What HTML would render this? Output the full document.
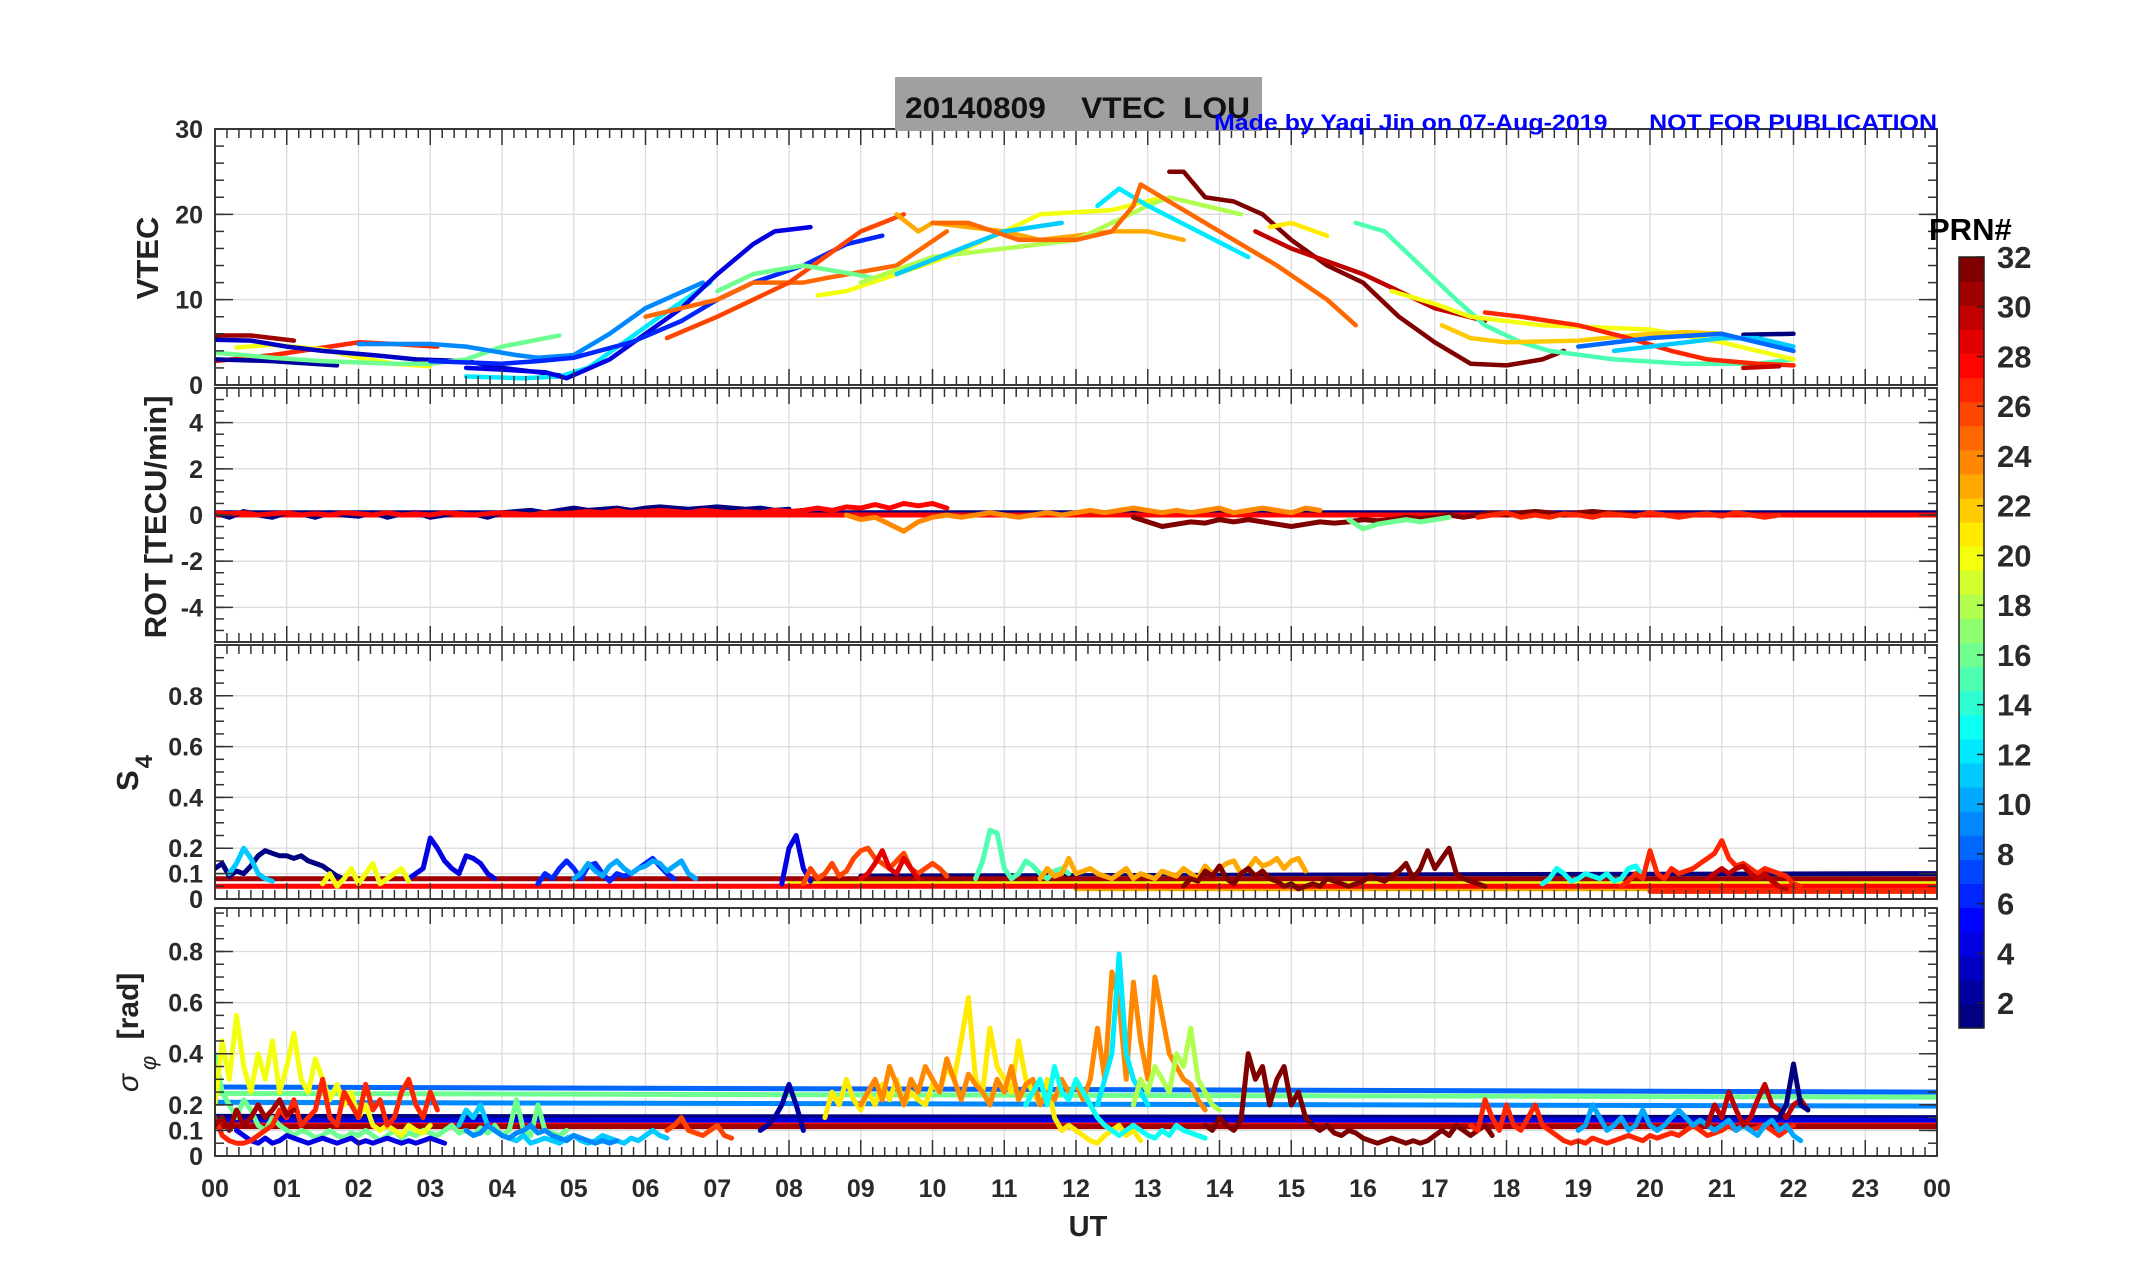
<!DOCTYPE html>
<html><head><meta charset="utf-8"><style>
html,body{margin:0;padding:0;background:#fff;}
svg{display:block;font-family:"Liberation Sans",sans-serif;}
</style></head><body>
<svg id="fig" width="2153" height="1286" viewBox="0 0 2153 1286" xmlns="http://www.w3.org/2000/svg">
<defs>
<clipPath id="c1"><rect x="215" y="129" width="1722" height="256"/></clipPath>
<clipPath id="c2"><rect x="215" y="388" width="1722" height="254"/></clipPath>
<clipPath id="c3"><rect x="215" y="645" width="1722" height="254"/></clipPath>
<clipPath id="c4"><rect x="215" y="908" width="1722" height="248"/></clipPath>
</defs>
<g id="grid"></g>
<g id="marks"></g>
<g id="axes"></g>
<rect x="895" y="77" width="367" height="54" fill="#a0a0a0"/>
<text x="905" y="118" font-size="30" font-weight="bold" fill="#111" textLength="345" lengthAdjust="spacingAndGlyphs" xml:space="preserve">20140809    VTEC  LOU</text>
<text x="1937" y="130" font-size="22" font-weight="bold" fill="#0000ff" text-anchor="end" textLength="723" lengthAdjust="spacingAndGlyphs" xml:space="preserve">Made by Yaqi Jin on 07-Aug-2019      NOT FOR PUBLICATION</text>
<text transform="translate(158,258) rotate(-90)" font-size="31" font-weight="bold" fill="#222" text-anchor="middle">VTEC</text>
<text transform="translate(166,517) rotate(-90)" font-size="31" font-weight="bold" fill="#222" text-anchor="middle">ROT [TECU/min]</text>
<text transform="translate(138,773) rotate(-90)" font-size="31" font-weight="bold" fill="#222" text-anchor="middle">S<tspan dy="14" dx="2" font-size="24">4</tspan></text>
<text transform="translate(138,1006) rotate(-90)" font-size="30" font-weight="bold" fill="#222" text-anchor="middle">[rad]</text>
<text transform="translate(138,1083) rotate(-90)" font-size="30" font-style="italic" fill="#222" text-anchor="middle">σ</text>
<text transform="translate(156,1063) rotate(-90)" font-size="22" font-style="italic" fill="#222" text-anchor="middle">φ</text>
<text x="1088" y="1236" font-size="29" font-weight="bold" fill="#222" text-anchor="middle">UT</text>
<g id="cbar"></g>
<text x="1929" y="240" font-size="31" font-weight="bold" fill="#000">PRN#</text>
</svg>
<script>
// ---------- data ----------
const hourTicks=["00","01","02","03","04","05","06","07","08","09","10","11","12","13","14","15","16","17","18","19","20","21","22","23","00"];
const vtecTicks=[0,10,20,30];
const rotTicks=[-4,-2,0,2,4];
const s4Ticks=[0,0.1,0.2,0.4,0.6,0.8];
const sigTicks=[0,0.1,0.2,0.4,0.6,0.8];
const cbarTicks=[2,4,6,8,10,12,14,16,18,20,22,24,26,28,30,32];

// VTEC tracks: PRN, hours, TEC values
const vtecPRN=[31,27,20,3,2,16,9,12,4,6,25,26,16,20,23,18,11,12,25,32,30,15,20,22,27,30,1,11,21,8];
const vtecT=[
[0,0.5,1.1],[0,0.8,1.6,2.0,2.5,3.1],[0.3,0.8,1.5,2.0,2.5,3.0],[0,0.5,1.0,1.5,2.2,2.8,3.5,4.0,4.5,4.9],
[0,0.8,1.7],[0,0.8,1.5,2.5,3.0,3.5,4.0,4.8],[2.0,3.0,3.5,4.2,4.5,5.0,5.5,6.0,6.8],[3.5,4.3,4.8,5.2,5.7,6.2,6.9],
[3.5,4.0,4.6,4.9,5.5,6.0,6.5,7.0,7.5,7.8,8.3],[3.0,4.0,4.5,5.0,5.8,6.5,7.0,7.5,8.2,8.8,9.3],[6.0,7.0,7.5,8.2,8.5,9.5,10.2],
[6.3,7.0,8.0,8.5,9.0,9.6],[7.0,7.5,8.2,8.9,9.2],[8.4,8.8,9.5,10.2,11.0,11.5,12.5,13.2],[9.5,9.8,10.0,11.0,11.5,12.0,12.5,13.0,13.5],
[9.0,10.0,11.0,12.0,12.5,13.0,13.3,13.8,14.3],[9.5,11.0,11.8],[12.3,12.6,13.0,13.7,14.4],
[10.0,10.5,11.2,12.0,12.5,12.8,12.9,13.2,13.6,14.2,14.8,15.5,15.9],
[13.3,13.5,13.8,14.2,14.6,15.0,15.5,16.0,16.5,17.0,17.5,18.0,18.5,18.8],
[14.5,15.0,15.5,16.0,16.5,17.0,17.7],[15.9,16.3,16.8,17.3,17.7,18.2,18.6,19.5,20.5,21.5,22.0],
[16.4,17.0,17.5,18.5,20.0,21.0,21.5,22.0],[17.1,17.5,18.0,19.0,20.0,20.5,21.0],
[17.7,18.2,19.0,19.7,20.3,20.8,21.5,22.0],[21.3,21.8],[21.3,22.0],[19.5,20.5,21.0,21.5,22.0],[14.7,15.0,15.5],[19.0,20.0,21.0,22.0]];
const vtecV=[
[5.8,5.8,5.2],[2.8,3.5,4.5,5.0,4.8,4.5],[4.4,4.7,4.2,3.2,2.5,2.2],[5.3,5.2,4.5,4.0,3.5,3.0,2.8,2.0,1.5,1.0],
[3.0,2.8,2.3],[3.8,3.2,2.8,2.5,2.5,3.0,4.5,5.8],[4.8,4.8,4.5,3.5,3.2,3.5,6.0,9.0,12.0],[1.0,0.8,1.0,2.0,5.0,8.0,12.0],
[2.0,1.8,1.5,0.8,3.0,6.0,9.0,13.0,16.5,18.0,18.5],[2.8,2.5,2.8,3.2,5.0,7.5,10.0,12.0,14.0,16.5,17.5],[8.0,10.0,12.0,12.0,12.5,14.0,18.0],
[5.5,8.0,12.0,15.0,18.0,20.0],[11.0,13.0,14.0,13.0,12.5],[10.5,11.0,13.0,15.0,18.0,20.0,20.5,22.0],[20.0,18.0,19.0,18.0,17.0,17.5,18.0,18.0,17.0],
[12.0,15.0,16.0,17.0,19.0,21.0,22.0,21.0,20.0],[13.0,18.0,19.0],[21.0,23.0,21.0,18.0,15.0],
[19.0,19.0,17.0,17.0,18.0,21.0,23.5,22.0,20.0,17.0,14.0,10.0,7.0],
[25.0,25.0,22.0,21.5,20.0,17.0,14.0,12.0,8.0,5.0,2.5,2.3,3.0,4.0],
[18.0,16.0,14.5,13.0,11.0,9.0,7.5],[19.0,18.0,14.0,10.0,7.0,5.0,4.0,3.0,2.5,2.5,3.0],
[11.0,9.5,8.0,7.0,6.5,5.0,4.0,3.0],[7.0,5.5,5.0,5.2,6.0,6.2,6.0],
[8.5,8.0,7.0,5.5,4.0,3.0,2.5,2.3],[2.0,2.2],[5.9,6.0],[4.0,5.0,5.5,5.5,4.5],[18.5,19.0,17.5],[4.5,5.5,6.0,4.0]];

// ROT: PRN, start hour, values every 0.2 h
const rotPRN=[1,28,24,32,16,27];
const rotStart=[0,0,8.8,12.8,15.8,17.6];
const rotV=[
[0.1,-0.1,0.15,0,-0.1,0.1,0.05,-0.1,0.1,0,-0.05,0.1,-0.1,0.05,0.1,-0.1,0,0.1,0.05,-0.1,0.1,0.15,0.2,0.1,0.2,0.3,0.2,0.25,0.3,0.2,0.3,0.35,0.3,0.25,0.3,0.35,0.3,0.25,0.3,0.2,0.25],
[0.1,0.05,0.1,0,0.05,0.1,0,0.05,0,0.1,0.05,0,0.1,0,0.05,0,0.1,0.05,0,0.05,0.1,0.05,0,0.1,0.05,0.1,0.15,0.1,0.2,0.1,0.15,0.2,0.15,0.1,0.2,0.15,0.1,0.15,0.1,0.2,0.15,0.2,0.3,0.2,0.35,0.3,0.45,0.3,0.5,0.4,0.5,0.3],
[0,-0.2,-0.1,-0.4,-0.7,-0.3,-0.1,0,-0.1,0,0.1,0,-0.1,0,0.1,0,0.1,0.2,0.1,0.2,0.3,0.2,0.1,0.2,0.1,0.2,0.3,0.1,0.2,0.3,0.2,0.1,0.3,0.2],
[-0.1,-0.3,-0.5,-0.4,-0.3,-0.35,-0.2,-0.3,-0.2,-0.3,-0.4,-0.5,-0.4,-0.3,-0.35,-0.3,-0.2,-0.25,-0.2,-0.1,-0.15,-0.1,0,-0.1,0,0.1,0,0.1,0.15,0.1,0,0.1,0.15,0.1,0.05,0],
[-0.2,-0.6,-0.4,-0.3,-0.2,-0.3,-0.2,-0.1],
[-0.1,0,0.1,-0.1,0,-0.1,0.05,0,-0.1,0.05,0,-0.05,0.1,0,-0.1,0,0.05,-0.05,0.1,0,-0.1,0]];
const rotFlatPRN=[1,28];
const rotFlatV=[0.1,0];

// S4: PRN, start hour, values every 0.1 h
const s4PRN=[1,11,4,4,6,10,20,26,29,15,23,32,13,27,30];
const s4Start=[0,0.2,2.7,7.9,4.5,5.0,1.5,8.2,9.0,10.6,11.5,13.5,18.5,19.6,20.8];
const s4V=[
[0.12,0.14,0.09,0.11,0.1,0.13,0.17,0.19,0.18,0.17,0.17,0.16,0.17,0.15,0.14,0.13,0.11,0.09,0.08],
[0.1,0.14,0.2,0.16,0.1,0.08,0.07],
[0.08,0.1,0.12,0.24,0.2,0.15,0.12,0.1,0.17,0.16,0.14,0.1,0.08],
[0.06,0.2,0.25,0.12,0.07],
[0.06,0.1,0.08,0.12,0.15,0.12,0.08,0.13,0.14,0.1,0.07,0.1,0.09,0.1,0.12,0.14,0.16,0.13,0.1,0.08],
[0.08,0.1,0.14,0.11,0.09,0.13,0.15,0.12,0.1,0.12,0.13,0.15,0.14,0.11,0.13,0.15,0.1,0.08],
[0.06,0.1,0.05,0.08,0.12,0.06,0.1,0.14,0.06,0.08,0.1,0.12,0.07],
[0.06,0.12,0.08,0.1,0.14,0.09,0.11,0.16,0.19,0.2,0.16,0.14,0.12,0.15,0.18,0.12,0.1,0.12,0.14,0.12,0.09],
[0.08,0.1,0.14,0.19,0.12,0.1,0.16,0.12,0.08],
[0.08,0.15,0.27,0.26,0.12,0.08,0.1,0.15,0.13,0.1,0.08,0.11,0.12,0.1],
[0.08,0.12,0.09,0.1,0.16,0.1,0.11,0.12,0.1,0.09,0.08,0.1,0.12,0.08,0.1,0.09,0.08,0.11,0.1,0.09,0.12,0.1,0.08,0.13,0.1,0.12,0.14,0.15,0.1,0.12,0.16,0.13,0.14,0.16,0.12,0.15,0.16,0.11],
[0.05,0.08,0.07,0.11,0.09,0.13,0.08,0.06,0.1,0.12,0.09,0.11,0.08,0.07,0.05,0.06,0.04,0.05,0.06,0.05,0.08,0.07,0.06,0.05,0.06,0.07,0.09,0.08,0.07,0.09,0.11,0.14,0.08,0.12,0.19,0.12,0.16,0.2,0.1,0.08,0.07,0.06,0.05],
[0.06,0.08,0.12,0.1,0.07,0.08,0.1,0.09,0.08,0.1,0.07,0.08,0.12,0.13,0.09],
[0.05,0.07,0.1,0.08,0.19,0.1,0.08,0.12,0.1,0.11,0.12,0.14,0.16,0.18,0.23,0.16,0.13,0.14,0.12,0.1,0.12,0.11,0.1,0.09,0.06,0.05],
[0.08,0.1,0.12,0.1,0.12,0.13,0.1,0.08,0.1,0.07,0.05,0.04]];
const s4FlatPRN=[1,15,20,23,28,27,31];
const s4FlatT0=[9,12,8,12,0,20,0];
const s4FlatV0=[0.09,0.08,0.06,0.04,0.05,0.03,0.08];
const s4FlatV1=[0.1,0.08,0.06,0.04,0.05,0.03,0.08];

// Sigma-phi: PRN, start hour, values every 0.1 h
const sigPRN=[16,20,4,11,9,27,31,26,2,21,24,13,12,18,32,27,10,30,1];
const sigStart=[0,0,0.3,3.4,3.5,0,0,6.3,7.6,8.5,9.0,11.3,12.3,12.8,13.8,17.5,19.0,20.8,21.8];
const sigV=[
[0.4,0.25,0.2,0.15,0.22,0.18,0.12,0.1,0.15,0.12,0.1,0.08,0.1,0.09,0.07,0.08,0.1,0.08,0.07,0.09,0.08,0.1,0.08,0.06,0.08,0.1,0.07,0.09,0.08,0.1,0.09,0.08,0.1,0.12,0.09,0.1,0.08,0.11,0.09,0.12,0.08,0.1,0.22,0.1,0.08,0.2,0.1,0.09,0.08,0.1],
[0.2,0.45,0.3,0.55,0.35,0.25,0.4,0.3,0.45,0.25,0.35,0.48,0.3,0.25,0.38,0.3,0.22,0.28,0.2,0.25,0.15,0.2,0.12,0.1,0.12,0.1,0.08,0.12,0.1,0.09,0.12],
[0.1,0.08,0.06,0.05,0.07,0.05,0.06,0.08,0.07,0.06,0.05,0.06,0.07,0.06,0.05,0.06,0.07,0.05,0.06,0.05,0.06,0.07,0.06,0.05,0.06,0.05,0.06,0.07,0.06,0.05],
[0.12,0.18,0.15,0.2,0.12,0.1,0.08,0.07,0.06,0.08,0.05,0.06,0.07,0.06,0.05,0.07,0.08,0.06,0.05,0.06,0.08,0.07,0.06,0.05,0.07,0.06,0.08,0.1,0.08,0.07],
[0.1,0.08,0.09,0.12,0.1,0.08,0.07,0.09,0.1,0.12,0.09,0.1,0.08,0.07,0.06,0.08,0.07,0.06,0.05,0.06,0.05,0.06],
[0.15,0.08,0.06,0.05,0.05,0.06,0.08,0.1,0.12,0.18,0.15,0.22,0.12,0.15,0.18,0.3,0.15,0.12,0.25,0.2,0.15,0.28,0.18,0.22,0.12,0.15,0.25,0.3,0.2,0.15,0.25,0.18],
[0.12,0.15,0.1,0.18,0.12,0.15,0.2,0.15,0.18,0.22,0.16,0.18],
[0.1,0.12,0.15,0.1,0.09,0.08,0.1,0.12,0.08,0.07],
[0.1,0.12,0.15,0.2,0.28,0.2,0.1],
[0.15,0.25,0.2,0.3,0.22,0.18,0.25,0.2,0.28,0.22,0.3,0.2,0.25,0.22,0.2,0.28,0.25,0.35,0.3,0.45,0.62,0.3,0.25,0.5,0.35,0.3,0.25,0.45,0.3,0.25,0.2,0.3,0.15,0.1,0.12,0.1,0.08,0.06,0.05,0.08,0.1,0.12,0.08,0.1,0.06],
[0.2,0.25,0.3,0.22,0.35,0.28,0.2,0.3,0.25,0.35,0.3,0.25,0.38,0.3,0.22,0.32,0.28,0.25,0.2,0.3,0.25,0.35,0.22,0.28,0.3,0.2,0.25,0.22,0.3,0.25,0.28,0.22,0.3,0.5,0.3,0.72,0.6,0.3,0.68,0.45,0.3,0.7,0.55,0.4,0.35,0.3,0.28,0.22,0.18],
[0.2,0.25,0.3,0.2,0.35,0.25,0.22,0.3,0.25,0.2,0.15,0.12,0.1,0.08,0.1,0.12,0.1,0.08,0.07,0.1,0.08,0.12,0.1,0.09,0.08,0.07],
[0.2,0.3,0.4,0.79,0.4,0.3,0.25,0.2],
[0.2,0.3,0.25,0.35,0.3,0.25,0.4,0.35,0.5,0.3,0.25,0.2,0.18],
[0.12,0.1,0.15,0.12,0.1,0.14,0.4,0.3,0.35,0.2,0.3,0.35,0.2,0.25,0.15,0.12,0.1,0.12,0.09,0.08,0.1,0.09,0.07,0.06,0.05,0.06,0.07,0.06,0.05,0.06,0.05,0.06,0.08,0.1,0.08,0.12,0.1,0.08,0.1,0.12,0.08],
[0.12,0.1,0.22,0.15,0.1,0.2,0.12,0.1,0.15,0.2,0.12,0.1,0.08,0.06,0.05,0.06,0.05,0.07,0.06,0.05,0.06,0.07,0.08,0.07,0.06,0.08,0.07,0.08,0.09,0.08,0.1,0.12,0.1,0.08,0.09,0.1,0.12,0.1,0.12,0.1,0.11,0.12,0.1,0.08,0.1,0.12],
[0.1,0.12,0.2,0.15,0.1,0.12,0.15,0.1,0.12,0.18,0.12,0.1,0.12,0.15,0.18,0.15,0.12,0.14,0.12,0.1,0.12,0.14,0.1,0.12,0.1,0.08,0.12,0.14,0.1,0.12,0.08,0.06],
[0.12,0.2,0.15,0.25,0.18,0.12,0.15,0.22,0.28,0.2,0.18,0.15,0.2,0.22,0.18],
[0.15,0.2,0.36,0.2,0.18]];
const sigFlatPRN=[8,16,9,1,4,28,31];
const sigFlatV0=[0.27,0.245,0.21,0.155,0.14,0.12,0.115];
const sigFlatV1=[0.25,0.23,0.195,0.15,0.14,0.12,0.115];

// ---------- drawing ----------
const NS="http://www.w3.org/2000/svg";
const X0=215,X1=1937;
const xs=h=>X0+(X1-X0)*h/24;
const panels=[
 {top:129,bot:385,min:0,max:30,clip:"c1"},
 {top:388,bot:642,min:-5.5,max:5.5,clip:"c2"},
 {top:645,bot:899,min:0,max:1,clip:"c3"},
 {top:908,bot:1156,min:0,max:0.97,clip:"c4"}];
function ys(p,v){const P=panels[p];const full=(P.bot-P.top)/(P.max-P.min);return P.bot-(v-P.min)*full;}
function jet(prn){const t=(prn-1)/31;const c=x=>Math.round(255*Math.max(0,Math.min(1,x)));
 return `rgb(${c(1.5-Math.abs(4*t-3))},${c(1.5-Math.abs(4*t-2))},${c(1.5-Math.abs(4*t-1))})`;}
function mk(tag,at,parent){const e=document.createElementNS(NS,tag);for(const k in at)e.setAttribute(k,at[k]);parent.appendChild(e);return e;}
const grid=document.getElementById('grid'),marks=document.getElementById('marks'),axes=document.getElementById('axes');

const yTicksList=[vtecTicks,rotTicks,s4Ticks,sigTicks];
const yMinor=[2,0.5,0.05,0.05];
panels.forEach((P,pi)=>{
 for(let h=1;h<24;h++){const g=mk('line',{x1:xs(h),x2:xs(h),y1:P.top,y2:P.bot,stroke:'#dcdcdc','stroke-width':1.3},grid);
  
  }
 yTicksList[pi].forEach(v=>{const y=ys(pi,v);const g=mk('line',{x1:X0,x2:X1,y1:y,y2:y,stroke:'#dcdcdc','stroke-width':1.3},grid);
  
  });
});

function poly(pi,pts,prn,w,name){
 const d=pts.map((p,i)=>(i?'L':'M')+xs(p[0]).toFixed(1)+','+ys(pi,p[1]).toFixed(1)).join('');
 const e=mk('path',{d:d,fill:'none',stroke:jet(prn),'stroke-width':w,'stroke-linejoin':'round','stroke-linecap':'round','clip-path':'url(#'+panels[pi].clip+')'},marks);
 
 
}
sigFlatPRN.forEach((prn,i)=>poly(3,[[0,sigFlatV0[i]],[24,sigFlatV1[i]]],prn,5,'sigma-phi-mean-prn'+prn));
s4FlatPRN.forEach((prn,i)=>poly(2,[[s4FlatT0[i],s4FlatV0[i]],[24,s4FlatV1[i]]],prn,5,'s4-mean-prn'+prn));
rotFlatPRN.forEach((prn,i)=>poly(1,[[0,rotFlatV[i]],[24,rotFlatV[i]]],prn,5,'rot-mean-prn'+prn));
vtecPRN.forEach((prn,i)=>poly(0,vtecT[i].map((t,j)=>[t,vtecV[i][j]]),prn,4.5,'vtec-track-prn'+prn));
rotPRN.forEach((prn,i)=>poly(1,rotV[i].map((v,j)=>[rotStart[i]+0.2*j,v]),prn,5,'rot-series-prn'+prn));
s4PRN.forEach((prn,i)=>poly(2,s4V[i].map((v,j)=>[s4Start[i]+0.1*j,v]),prn,5,'s4-series-prn'+prn));
sigPRN.forEach((prn,i)=>poly(3,sigV[i].map((v,j)=>[sigStart[i]+0.1*j,v]),prn,5,'sigma-phi-series-prn'+prn));

panels.forEach((P,pi)=>{
 const r=mk('rect',{x:X0,y:P.top,width:X1-X0,height:P.bot-P.top,fill:'none',stroke:'#222','stroke-width':1.8},axes);
 
 
 for(let m=0;m<=144;m++){const x=xs(m/6);const L=m%6===0?16:9;
  mk('line',{x1:x,x2:x,y1:P.top,y2:P.top+L,stroke:'#333','stroke-width':1.5},axes);
  mk('line',{x1:x,x2:x,y1:P.bot,y2:P.bot-L,stroke:'#333','stroke-width':1.5},axes);}
 const st=yMinor[pi];
 for(let v=P.min<0?-5.5:0;v<=P.max+1e-9;v+=st){const y=ys(pi,v);
  mk('line',{x1:X0,x2:X0+9,y1:y,y2:y,stroke:'#333','stroke-width':1.5},axes);
  mk('line',{x1:X1,x2:X1-9,y1:y,y2:y,stroke:'#333','stroke-width':1.5},axes);}
 yTicksList[pi].forEach(v=>{const y=ys(pi,v);
  mk('line',{x1:X0,x2:X0+18,y1:y,y2:y,stroke:'#333','stroke-width':1.5},axes);
  mk('line',{x1:X1,x2:X1-18,y1:y,y2:y,stroke:'#333','stroke-width':1.5},axes);
  const t=mk('text',{x:203,y:y+9,'font-size':25,'font-weight':'bold',fill:'#2a2a2a','text-anchor':'end'},axes);
  t.textContent=String(v);
  
  });
});
hourTicks.forEach((lab,i)=>{const t=mk('text',{x:xs(i),y:1197,'font-size':25,'font-weight':'bold',fill:'#2a2a2a','text-anchor':'middle'},axes);
 t.textContent=lab;
 
 });

const cb=document.getElementById('cbar');const CT=257,CB=1028,CX=1959,CW=25;
const cy=v=>CB-(v-1)*(CB-CT)/31;
for(let k=0;k<32;k++){const y0=CB-(k+1)*(CB-CT)/32,y1=CB-k*(CB-CT)/32;
 const r=mk('rect',{x:CX,y:y0,width:CW,height:y1-y0+0.6,fill:jet(k+1)},cb);
 
 }
mk('rect',{x:CX,y:CT,width:CW,height:CB-CT,fill:'none',stroke:'#222','stroke-width':1.5},cb);
cbarTicks.forEach(v=>{const y=cy(v);mk('line',{x1:CX+CW-7,x2:CX+CW,y1:y,y2:y,stroke:'#222','stroke-width':1.5},cb);
 const t=mk('text',{x:1997,y:y+11,'font-size':31,'font-weight':'bold',fill:'#2a2a2a'},cb);
 t.textContent=String(v);
 
 });
</script>
</body></html>
